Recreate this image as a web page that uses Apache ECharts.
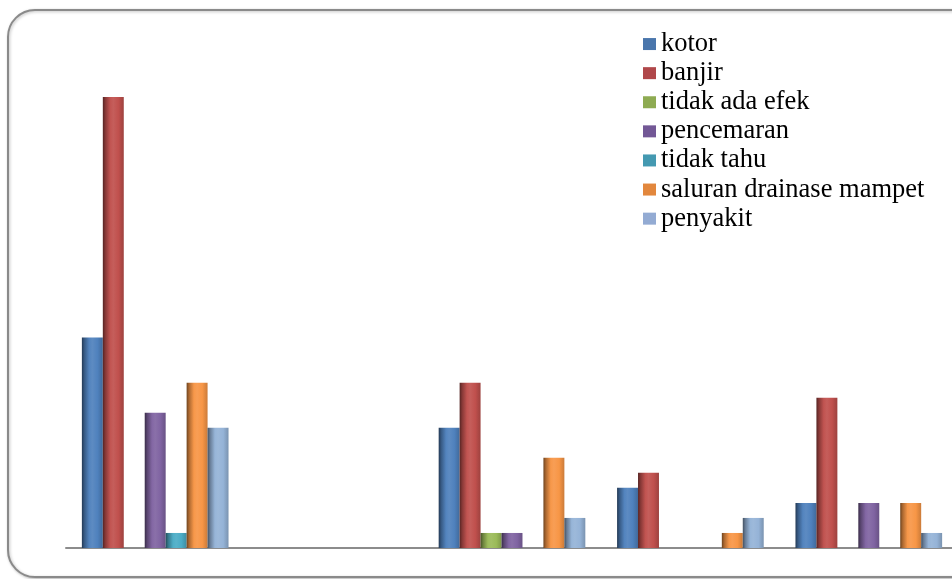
<!DOCTYPE html>
<html>
<head>
<meta charset="utf-8">
<script src="https://cdn.jsdelivr.net/npm/echarts@6/dist/echarts.min.js"></script>
<style>
html,body{margin:0;padding:0;background:#fff;overflow:hidden;width:952px;height:579px;}
#c{width:1010px;height:579px;}
</style>
</head>
<body>
<div id="c"></div>
<script>
// Data
const categories = ['1', '2', '3', '4', '5'];
const seriesNames = ['kotor', 'banjir', 'tidak ada efek', 'pencemaran', 'tidak tahu', 'saluran drainase mampet', 'penyakit'];
const kotor = [14, 0, 8, 4, 3];
const banjir = [30, 0, 11, 5, 10];
const tidakAdaEfek = [0, 0, 1, 0, 0];
const pencemaran = [9, 0, 1, 0, 3];
const tidakTahu = [1, 0, 0, 0, 0];
const saluran = [11, 0, 6, 1, 3];
const penyakit = [8, 0, 2, 2, 1];
const seriesValues = [kotor, banjir, tidakAdaEfek, pencemaran, tidakTahu, saluran, penyakit];

// Styles
const baseColors = ['#4F81BD', '#C0504D', '#9BBB59', '#8064A2', '#4BACC6', '#F79646', '#95B3D7'];
const legendColors = ['#4A76AC', '#B0474A', '#8EAB52', '#735896', '#4499B1', '#E2873D', '#93ABD3'];

function adj(hex, f) {
  const n = parseInt(hex.slice(1), 16);
  let r = (n >> 16) & 255, g = (n >> 8) & 255, b = n & 255;
  if (f < 0) { r *= (1 + f); g *= (1 + f); b *= (1 + f); }
  else { r += (255 - r) * f; g += (255 - g) * f; b += (255 - b) * f; }
  const h = v => ('0' + Math.round(v).toString(16)).slice(-2);
  return '#' + h(r) + h(g) + h(b);
}
function grad(c) {
  return new echarts.graphic.LinearGradient(0, 0, 1, 0, [
    { offset: 0, color: adj(c, -0.55) },
    { offset: 0.12, color: adj(c, -0.3) },
    { offset: 0.35, color: adj(c, 0.02) },
    { offset: 0.5, color: adj(c, 0.08) },
    { offset: 0.75, color: adj(c, 0.0) },
    { offset: 1, color: adj(c, -0.18) }
  ]);
}

const chart = echarts.init(document.getElementById('c'), null, { renderer: 'canvas' });
const option = {
  backgroundColor: '#fff',
  animation: false,
  graphic: [{
    type: 'rect',
    z: -10,
    shape: { x: 8, y: 10, width: 1040, height: 567, r: 27 },
    style: { fill: '#fff', stroke: '#8a8a8a', lineWidth: 2, shadowBlur: 3, shadowColor: 'rgba(0,0,0,0.25)', shadowOffsetX: 1, shadowOffsetY: 1 }
  }],
  legend: {
    orient: 'vertical',
    left: 638,
    top: 24.5,
    icon: 'rect',
    itemWidth: 13,
    itemHeight: 12,
    itemGap: 0,
    textStyle: { fontFamily: "'Liberation Serif', 'Times New Roman', serif", fontSize: 26.5, color: '#000', lineHeight: 29.1 },
    data: seriesNames.map((n, i) => ({ name: n, itemStyle: { color: legendColors[i] } }))
  },
  grid: { left: 66, top: 97, width: 892, height: 451 },
  xAxis: {
    type: 'category',
    data: categories,
    offset: 1,
    axisLine: { lineStyle: { color: '#8c8c8c', width: 2 } },
    axisTick: { show: false },
    axisLabel: { show: false },
    splitLine: { show: false }
  },
  yAxis: {
    type: 'value',
    min: 0,
    max: 30,
    show: false,
    splitLine: { show: false }
  },
  series: seriesNames.map((n, i) => ({
    name: n,
    type: 'bar',
    data: seriesValues[i],
    barGap: '0%',
    barCategoryGap: '17.8%',
    itemStyle: { color: grad(baseColors[i]) }
  }))
};
chart.setOption(option);
</script>
</body>
</html>
